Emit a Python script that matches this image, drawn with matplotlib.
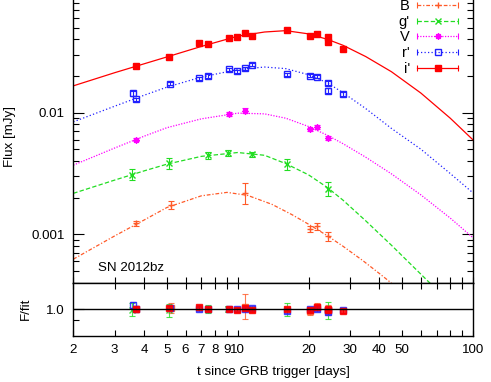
import numpy as np
import matplotlib
matplotlib.use('Agg')
import matplotlib.pyplot as plt
from matplotlib.lines import Line2D
from matplotlib.legend_handler import HandlerLine2D
from matplotlib.ticker import LogLocator, NullFormatter, FixedLocator

plt.rcParams['font.family'] = ['Liberation Sans', 'DejaVu Sans']
plt.rcParams['font.size'] = 9.6

# photometry: days since GRB trigger, flux [mJy], relative error
t_B = [3.69, 5.21, 10.76, 20.2, 21.8, 24.2]
f_B = [0.00123, 0.00174, 0.00220, 0.00111, 0.00116, 0.00096]
e_B = [0.05, 0.08, 0.20, 0.06, 0.06, 0.08]

t_g = [3.54, 5.12, 7.51, 9.08, 11.48, 16.18, 24.2]
f_g = [0.00310, 0.00382, 0.00445, 0.00467, 0.00453, 0.00375, 0.00237]
e_g = [0.10, 0.10, 0.06, 0.05, 0.04, 0.10, 0.13]

t_V = [3.69, 9.22, 10.76, 20.3, 21.8, 24.1]
f_V = [0.00597, 0.0098, 0.0104, 0.0073, 0.00764, 0.0062]
e_V = [0.03, 0.04, 0.04, 0.03, 0.04, 0.04]

t_r = [3.58, 3.69, 5.13, 6.83, 7.51, 9.22, 9.95, 10.76, 11.48, 16.18, 20.3, 21.8, 24.1, 24.1, 28.0]
f_r = [0.0144, 0.01285, 0.0173, 0.0191, 0.0200, 0.0228, 0.0218, 0.0232, 0.0247, 0.0206, 0.0201, 0.0197, 0.0175, 0.0152, 0.01423]
e_r = [0.04, 0.03, 0.03, 0.03, 0.03, 0.03, 0.03, 0.03, 0.03, 0.03, 0.03, 0.03, 0.04, 0.04, 0.04]

t_i = [3.69, 5.12, 6.83, 7.51, 9.22, 9.95, 10.76, 11.48, 16.18, 20.3, 21.8, 24.1, 24.1, 28.0]
f_i = [0.0243, 0.0289, 0.0377, 0.0370, 0.0414, 0.0420, 0.0453, 0.0426, 0.0477, 0.0428, 0.0447, 0.0417, 0.0380, 0.0335]
e_i = [0.03, 0.03, 0.03, 0.03, 0.03, 0.03, 0.03, 0.03, 0.03, 0.03, 0.03, 0.03, 0.03, 0.03]

# fitted light curves
fit_t_B = [2, 3, 4, 5, 7, 9, 11, 14, 17, 20, 24, 28, 34, 40, 45]
fit_f_B = [0.000624, 0.00097, 0.00131, 0.00166, 0.00207, 0.00221, 0.00209, 0.00176,
           0.00145, 0.00121, 0.000975, 0.000798, 0.000608, 0.000476, 0.000397]
fit_t_g = [2, 3, 4, 5, 7, 10, 13, 16, 20, 24, 28, 35, 45, 55, 65, 70]
fit_f_g = [0.00217, 0.00279, 0.00332, 0.00377, 0.00437, 0.00470, 0.00446, 0.00381,
           0.00308, 0.00243, 0.00191, 0.00129, 0.000813, 0.000555, 0.000404, 0.000352]
fit_t_V = [2, 3, 4, 5, 7, 10, 13, 16, 20, 24, 28, 35, 45, 60, 80, 100]
fit_f_V = [0.0037, 0.00512, 0.0064, 0.00752, 0.00889, 0.0099, 0.00977, 0.0090,
           0.00769, 0.00653, 0.00556, 0.0043, 0.00314, 0.00211, 0.00136, 0.000937]
fit_t_r = [2, 3, 4, 5, 7, 10, 13, 16, 20, 24, 28, 35, 45, 60, 80, 100]
fit_f_r = [0.0084, 0.0113, 0.0139, 0.0162, 0.0196, 0.0226, 0.0237, 0.0230,
           0.0205, 0.0176, 0.0146, 0.0108, 0.00742, 0.00501, 0.00316, 0.00219]
fit_t_i = [2, 3, 4, 5, 7, 10, 13, 16, 20, 24, 28, 35, 45, 60, 80, 100]
fit_f_i = [0.0166, 0.0213, 0.0252, 0.0287, 0.0350, 0.0425, 0.0460, 0.0472,
           0.0444, 0.0401, 0.0358, 0.0289, 0.0217, 0.0145, 0.00901, 0.00597]

# data / fit
res_B = [1.00, 1.02, 1.05, 0.97, 1.05, 0.98]
res_g = [0.99, 0.98, 1.00, 1.00, 1.00, 1.00, 0.98]
res_V = [1.00, 1.00, 1.02, 0.99, 1.03, 0.99]
res_r = [1.08, 1.00, 1.03, 1.00, 1.00, 1.00, 1.00, 1.00, 1.03, 0.97, 1.00, 1.01, 0.95, 0.99, 0.98]
res_i = [1.00, 1.02, 1.04, 1.00, 1.00, 0.99, 1.02, 0.99, 1.01, 0.98, 1.04, 1.00, 0.99, 0.97]

bands = ["B", "g'", "V", "r'", "i'"]
colors = ['#ff5a28', '#22dd22', '#ff00ff', '#2020ff', '#ff0000']
lstyles = [(0, (3, 1.5, 1, 1.5)), (0, (3.5, 1.8)), (0, (1, 1.2)), (0, (1, 1.8)), '-']
markers = ['+', 'x', (8, 2, 0), 's', 's']
mfcs = ['#ff5a28', '#22dd22', '#ff00ff', 'none', '#ff0000']

tt = [t_B, t_g, t_V, t_r, t_i]
ff = [f_B, f_g, f_V, f_r, f_i]
ee = [e_B, e_g, e_V, e_r, e_i]
fits = [(fit_t_B, fit_f_B), (fit_t_g, fit_f_g), (fit_t_V, fit_f_V), (fit_t_r, fit_f_r), (fit_t_i, fit_f_i)]
res = [res_B, res_g, res_V, res_r, res_i]

xticks = [2, 3, 4, 5, 6, 7, 8, 9, 10, 20, 30, 40, 50, 60, 70, 80, 90, 100]
xlabels = ['2', '3', '4', '5', '6', '7', '8', '9', '10', '20', '30', '40', '50', '', '', '', '', '100']

fig = plt.figure(figsize=(4.91, 3.82), dpi=100)
ax = fig.add_axes([0.1493, 0.260, 0.8140, 0.7636])
axr = fig.add_axes([0.1493, 0.1212, 0.8140, 0.1387])

handles = []
hmap = {}
for k in range(5):
    c = colors[k]
    f = np.array(ff[k])
    ax.plot(fits[k][0], fits[k][1], color=c, ls=lstyles[k], lw=0.9)
    ax.errorbar(tt[k], f, yerr=f * np.array(ee[k]), fmt='none', ecolor=c, elinewidth=0.8,
                capsize=2, capthick=0.8)
    ax.plot(tt[k], f, ls='none', marker=markers[k], color=c, mfc=mfcs[k], ms=4.5, mew=1.0)

    r = np.array(res[k])
    axr.errorbar(tt[k], r, yerr=np.array(ee[k]) * 1.2, fmt='none', ecolor=c, elinewidth=0.8,
                 capsize=2, capthick=0.8, alpha=0.8)
    rm = 's' if k == 0 else markers[k]
    axr.plot(tt[k], r, ls='none', marker=rm, color=c, mfc=c if k == 0 else mfcs[k],
             ms=5 if k == 0 else 4, mew=1.0, alpha=0.85)

    cap = Line2D([], [], color=c, ls=lstyles[k], lw=0.9, marker='|', ms=5, mew=0.8)
    mk = Line2D([], [], color=c, ls='none', marker=markers[k], mfc=mfcs[k], ms=4.5, mew=1.0)
    hmap[cap] = HandlerLine2D(numpoints=2, marker_pad=0)
    hmap[mk] = HandlerLine2D(numpoints=1)
    handles.append((cap, mk))

ax.set_xscale('log')
ax.set_yscale('log')
ax.set_xlim(2, 100)
ax.set_ylim(4e-4, 0.1)
ax.xaxis.set_major_locator(FixedLocator(xticks))
ax.xaxis.set_minor_locator(FixedLocator([]))
ax.xaxis.set_major_formatter(NullFormatter())
ax.yaxis.set_major_locator(FixedLocator([0.001, 0.01, 0.1]))
ax.set_yticklabels(['0.001', '0.01', ''])
ax.yaxis.set_minor_locator(LogLocator(subs=np.arange(2, 10)))
ax.yaxis.set_minor_formatter(NullFormatter())
ax.tick_params(which='both', direction='in', top=True, right=True, width=0.8)
ax.tick_params(which='major', axis='y', length=8, pad=6)
ax.tick_params(which='minor', axis='y', length=4.5)
ax.tick_params(which='major', axis='x', length=4.5)
ax.set_ylabel('Flux [mJy]')
ax.yaxis.set_label_coords(-0.1445, 0.5)
ax.text(0.062, 0.051, 'SN 2012bz', transform=ax.transAxes, va='center', ha='left')

ax.legend(handles=handles, labels=bands, handler_map=hmap, markerfirst=False, frameon=False,
          handlelength=2.8, handletextpad=0.5, labelspacing=0.12, fontsize=10.5,
          loc='upper right', bbox_to_anchor=(458 / 491, 383 / 382),
          bbox_transform=fig.transFigure, borderaxespad=0, borderpad=0)

axr.axhline(1.0, color='black', lw=1.0)
axr.set_xscale('log')
axr.set_xlim(2, 100)
axr.set_ylim(0.5, 1.5)
axr.xaxis.set_major_locator(FixedLocator(xticks))
axr.xaxis.set_minor_locator(FixedLocator([]))
axr.set_xticklabels(xlabels)
axr.set_yticks([1.0], ['1.0'])
axr.set_yticks([0.8], minor=True)
axr.tick_params(which='both', direction='in', top=True, width=0.8)
axr.tick_params(axis='x', length=4.5, pad=6)
axr.tick_params(axis='y', which='major', length=8, pad=6)
axr.tick_params(axis='y', which='minor', length=4.5)
axr.set_ylabel('F/fit')
axr.yaxis.set_label_coords(-0.103, 0.5)
axr.set_xlabel('t since GRB trigger [days]')
axr.xaxis.set_label_coords(0.5, -0.57)

for a in (ax, axr):
    for s in a.spines.values():
        s.set_linewidth(1.0)

fig.savefig('out.png', dpi=100)
